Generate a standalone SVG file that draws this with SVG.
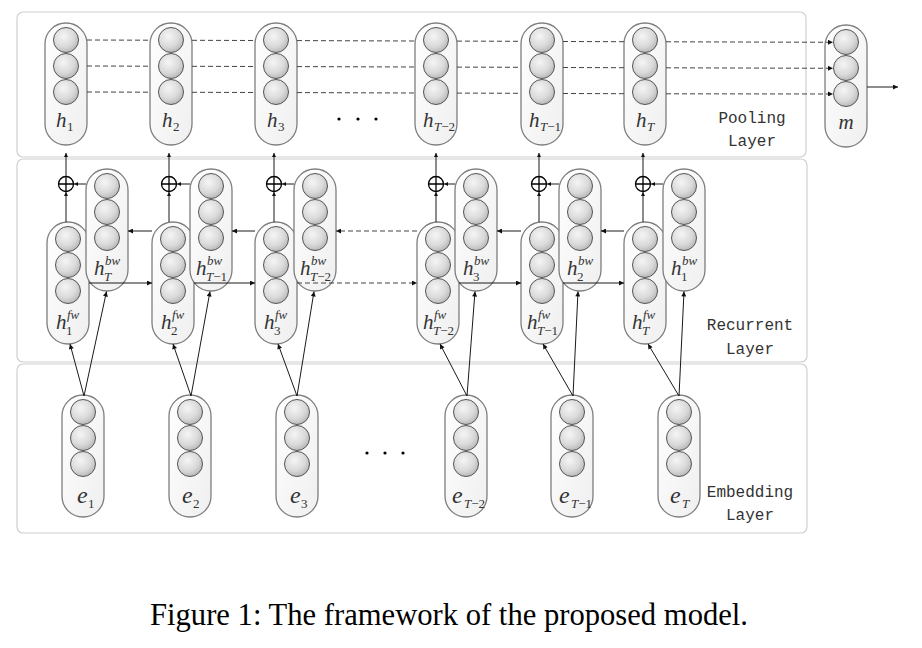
<svg xmlns="http://www.w3.org/2000/svg" xmlns:xlink="http://www.w3.org/1999/xlink" width="922" height="648" viewBox="0 0 922 648">
<style>
.layer{fill:#fff;stroke:#d0d0d0;stroke-width:1.2}
.pill{fill:url(#pg);stroke:#7e7e7e;stroke-width:1.3}
.dot{fill:url(#cg);stroke:#555;stroke-width:1}
.ln{stroke:#1a1a1a;stroke-width:1;fill:none}
.dash{stroke:#444;stroke-dasharray:5 3}
.math{font-family:"Liberation Serif",serif;font-style:italic;font-size:21px;fill:#333}
.em{font-size:24px}
.s{font-size:13px}
.up{font-style:normal}
.lay{font-family:"Liberation Mono",monospace;font-size:16px;fill:#333;text-anchor:middle}
.cap{font-family:"Liberation Serif",serif;font-size:31px;fill:#000;text-anchor:middle}
.op{fill:#fff;stroke:#000;stroke-width:1.3}
.bul{fill:#000}
</style>
<defs>
<radialGradient id="cg" cx="0.4" cy="0.35" r="0.7">
<stop offset="0" stop-color="#f5f5f5"/>
<stop offset="0.6" stop-color="#dadada"/>
<stop offset="1" stop-color="#b4b4b4"/>
</radialGradient>
<linearGradient id="pg" x1="0" y1="0" x2="1" y2="1">
<stop offset="0" stop-color="#ffffff"/>
<stop offset="1" stop-color="#efefef"/>
</linearGradient>
<g id="cell">
<rect x="0" y="0" width="42" height="122" rx="21" class="pill"/>
<circle cx="21" cy="17" r="12.5" class="dot"/>
<circle cx="21" cy="43" r="12.5" class="dot"/>
<circle cx="21" cy="69" r="12.5" class="dot"/>
</g>
<g id="plus">
<circle cx="0" cy="0" r="7.5" class="op"/>
<path d="M-7.5,0H7.5M0,-7.5V7.5" stroke="#000" stroke-width="1.3"/>
</g>
<marker id="ah" viewBox="0 0 10 10" refX="10" refY="5" markerWidth="7" markerHeight="5" markerUnits="userSpaceOnUse" orient="auto">
<path d="M0,0L10,5L0,10z" fill="#111"/>
</marker>
<marker id="ahs" viewBox="0 0 10 10" refX="10" refY="5" markerWidth="5" markerHeight="4" markerUnits="userSpaceOnUse" orient="auto">
<path d="M0,0L10,5L0,10z" fill="#111"/>
</marker>
</defs>

<g id="layers">
<rect class="layer" x="17" y="12" width="789" height="145" rx="6"/>
<rect class="layer" x="17" y="159" width="790" height="203" rx="6"/>
<rect class="layer" x="17" y="364" width="790" height="169" rx="6"/>
<text class="lay" x="752" y="123">Pooling</text>
<text class="lay" x="752" y="146">Layer</text>
<text class="lay" x="750" y="330">Recurrent</text>
<text class="lay" x="750" y="354">Layer</text>
<text class="lay" x="750" y="497">Embedding</text>
<text class="lay" x="750" y="520">Layer</text>
</g>

<!-- pooling nodes -->
<g id="h1"><use xlink:href="#cell" x="45" y="23"/><text class="math" x="56" y="127">h<tspan class="s up" x="67" y="131">1</tspan></text></g>
<g id="h2"><use xlink:href="#cell" x="150" y="23"/><text class="math" x="162" y="127">h<tspan class="s up" x="173" y="131">2</tspan></text></g>
<g id="h3"><use xlink:href="#cell" x="255" y="23"/><text class="math" x="267" y="127">h<tspan class="s up" x="278" y="131">3</tspan></text></g>
<g id="hT-2"><use xlink:href="#cell" x="415" y="23"/><text class="math" x="423" y="127">h<tspan class="s" x="434" y="131">T</tspan><tspan class="s up">−2</tspan></text></g>
<g id="hT-1"><use xlink:href="#cell" x="521" y="23"/><text class="math" x="529" y="127">h<tspan class="s" x="540" y="131">T</tspan><tspan class="s up">−1</tspan></text></g>
<g id="hT"><use xlink:href="#cell" x="624" y="23"/><text class="math" x="636" y="127">h<tspan class="s" x="647" y="131">T</tspan></text></g>
<g id="m"><use xlink:href="#cell" x="825" y="25"/><text class="math" x="846" y="129" text-anchor="middle">m</text></g>
<g id="dots-pool"><circle class="bul" cx="339" cy="119" r="1.6"/><circle class="bul" cx="358" cy="119" r="1.6"/><circle class="bul" cx="376" cy="119" r="1.6"/></g>

<!-- recurrent nodes -->
<g id="fw1"><use xlink:href="#cell" x="47" y="222"/><text class="math" x="56" y="329">h<tspan class="s" x="67" y="319">fw</tspan><tspan class="s up" x="66" y="335">1</tspan></text></g>
<g id="bwT"><use xlink:href="#cell" x="86" y="169"/><text class="math" x="94" y="275">h<tspan class="s" x="105" y="265">bw</tspan><tspan class="s" x="104" y="281">T</tspan></text></g>
<g id="fw2"><use xlink:href="#cell" x="152" y="222"/><text class="math" x="161" y="329">h<tspan class="s" x="172" y="319">fw</tspan><tspan class="s up" x="171" y="335">2</tspan></text></g>
<g id="bwT-1"><use xlink:href="#cell" x="190" y="169"/><text class="math" x="196" y="275">h<tspan class="s" x="207" y="265">bw</tspan><tspan class="s" x="206" y="281">T</tspan><tspan class="s up">−1</tspan></text></g>
<g id="fw3"><use xlink:href="#cell" x="255" y="222"/><text class="math" x="264" y="329">h<tspan class="s" x="275" y="319">fw</tspan><tspan class="s up" x="274" y="335">3</tspan></text></g>
<g id="bwT-2"><use xlink:href="#cell" x="294" y="169"/><text class="math" x="300" y="275">h<tspan class="s" x="311" y="265">bw</tspan><tspan class="s" x="310" y="281">T</tspan><tspan class="s up">−2</tspan></text></g>
<g id="fwT-2"><use xlink:href="#cell" x="417" y="222"/><text class="math" x="423" y="329">h<tspan class="s" x="434" y="319">fw</tspan><tspan class="s" x="433" y="335">T</tspan><tspan class="s up">−2</tspan></text></g>
<g id="bw3"><use xlink:href="#cell" x="455" y="169"/><text class="math" x="463" y="275">h<tspan class="s" x="474" y="265">bw</tspan><tspan class="s up" x="473" y="281">3</tspan></text></g>
<g id="fwT-1"><use xlink:href="#cell" x="521" y="222"/><text class="math" x="527" y="329">h<tspan class="s" x="538" y="319">fw</tspan><tspan class="s" x="537" y="335">T</tspan><tspan class="s up">−1</tspan></text></g>
<g id="bw2"><use xlink:href="#cell" x="559" y="169"/><text class="math" x="567" y="275">h<tspan class="s" x="578" y="265">bw</tspan><tspan class="s up" x="577" y="281">2</tspan></text></g>
<g id="fwT"><use xlink:href="#cell" x="624" y="222"/><text class="math" x="632" y="329">h<tspan class="s" x="643" y="319">fw</tspan><tspan class="s" x="642" y="335">T</tspan></text></g>
<g id="bw1"><use xlink:href="#cell" x="663" y="169"/><text class="math" x="671" y="275">h<tspan class="s" x="682" y="265">bw</tspan><tspan class="s up" x="681" y="281">1</tspan></text></g>

<g id="sum1"><use xlink:href="#plus" x="66" y="184"/></g>
<g id="sum2"><use xlink:href="#plus" x="169" y="184"/></g>
<g id="sum3"><use xlink:href="#plus" x="274" y="184"/></g>
<g id="sum4"><use xlink:href="#plus" x="436" y="184"/></g>
<g id="sum5"><use xlink:href="#plus" x="539" y="184"/></g>
<g id="sum6"><use xlink:href="#plus" x="643" y="184"/></g>

<!-- embedding nodes -->
<g id="e1"><use xlink:href="#cell" x="62" y="395"/><text class="math em" x="77" y="503">e<tspan class="s up" x="88" y="508">1</tspan></text></g>
<g id="e2"><use xlink:href="#cell" x="169" y="395"/><text class="math em" x="182" y="503">e<tspan class="s up" x="193" y="508">2</tspan></text></g>
<g id="e3"><use xlink:href="#cell" x="276" y="395"/><text class="math em" x="290" y="503">e<tspan class="s up" x="301" y="508">3</tspan></text></g>
<g id="eT-2"><use xlink:href="#cell" x="445" y="395"/><text class="math em" x="452" y="503">e<tspan class="s" x="464" y="508">T</tspan><tspan class="s up">−2</tspan></text></g>
<g id="eT-1"><use xlink:href="#cell" x="551" y="395"/><text class="math em" x="559" y="503">e<tspan class="s" x="571" y="508">T</tspan><tspan class="s up">−1</tspan></text></g>
<g id="eT"><use xlink:href="#cell" x="658" y="395"/><text class="math em" x="670" y="503">e<tspan class="s" x="682" y="508">T</tspan></text></g>
<g id="dots-emb"><circle class="bul" cx="367" cy="453" r="1.6"/><circle class="bul" cx="385" cy="453" r="1.6"/><circle class="bul" cx="403" cy="453" r="1.6"/></g>

<g id="connectors">
<path class="ln dash" marker-end="url(#ah)" d="M87,40L150,40.2M192,40.3L255,40.5M297,40.6L415,41M457,41.1L521,41.3M563,41.5L624,41.7M666,41.8L833,42.3"/>
<path class="ln dash" marker-end="url(#ah)" d="M87,66L150,66.2M192,66.3L255,66.5M297,66.6L415,67M457,67.1L521,67.3M563,67.5L624,67.7M666,67.8L833,68.3"/>
<path class="ln dash" marker-end="url(#ah)" d="M87,92L150,92.2M192,92.3L255,92.5M297,92.6L415,93M457,93.1L521,93.3M563,93.5L624,93.7M666,93.8L833,94"/>
<path class="ln" marker-end="url(#ah)" d="M867,87L898,87"/>
<path class="ln" marker-end="url(#ahs)" d="M66,176.5V153"/>
<path class="ln" marker-end="url(#ahs)" d="M169,176.5V153"/>
<path class="ln" marker-end="url(#ahs)" d="M274,176.5V153"/>
<path class="ln" marker-end="url(#ahs)" d="M436,176.5V153"/>
<path class="ln" marker-end="url(#ahs)" d="M539,176.5V153"/>
<path class="ln" marker-end="url(#ahs)" d="M643,176.5V153"/>
<path class="ln" marker-end="url(#ahs)" d="M66,222V192"/>
<path class="ln" marker-end="url(#ahs)" d="M169,222V192"/>
<path class="ln" marker-end="url(#ahs)" d="M274,222V192"/>
<path class="ln" marker-end="url(#ahs)" d="M436,222V192"/>
<path class="ln" marker-end="url(#ahs)" d="M539,222V192"/>
<path class="ln" marker-end="url(#ahs)" d="M643,222V192"/>
<path class="ln" marker-end="url(#ahs)" d="M86,184H74"/>
<path class="ln" marker-end="url(#ahs)" d="M190,184H177"/>
<path class="ln" marker-end="url(#ahs)" d="M294,184H282"/>
<path class="ln" marker-end="url(#ahs)" d="M455,184H444"/>
<path class="ln" marker-end="url(#ahs)" d="M559,184H547"/>
<path class="ln" marker-end="url(#ahs)" d="M663,184H651"/>
<path class="ln" marker-end="url(#ah)" d="M152,231H128"/>
<path class="ln" marker-end="url(#ah)" d="M255,231H232"/>
<path class="ln dash" marker-end="url(#ah)" d="M417,231H336"/>
<path class="ln" marker-end="url(#ah)" d="M521,231H497"/>
<path class="ln" marker-end="url(#ah)" d="M624,231H601"/>
<path class="ln" marker-end="url(#ah)" d="M89,283H152"/>
<path class="ln" marker-end="url(#ah)" d="M194,283H255"/>
<path class="ln dash" marker-end="url(#ah)" d="M297,283H417"/>
<path class="ln" marker-end="url(#ah)" d="M459,283H521"/>
<path class="ln" marker-end="url(#ah)" d="M563,283H624"/>
<path class="ln" marker-end="url(#ah)" d="M84,396L70,344"/>
<path class="ln" marker-end="url(#ah)" d="M84,396L106.5,291.5"/>
<path class="ln" marker-end="url(#ah)" d="M191,396L173,344"/>
<path class="ln" marker-end="url(#ah)" d="M191,396L210,291.5"/>
<path class="ln" marker-end="url(#ah)" d="M297,396L278,344"/>
<path class="ln" marker-end="url(#ah)" d="M297,396L314,291.5"/>
<path class="ln" marker-end="url(#ah)" d="M467,396L440,344"/>
<path class="ln" marker-end="url(#ah)" d="M467,396L475,291.5"/>
<path class="ln" marker-end="url(#ah)" d="M573,396L543,344"/>
<path class="ln" marker-end="url(#ah)" d="M573,396L578,291.5"/>
<path class="ln" marker-end="url(#ah)" d="M679,396L648,344"/>
<path class="ln" marker-end="url(#ah)" d="M679,396L684,291.5"/>
</g>

<text class="cap" x="449" y="625" textLength="598" lengthAdjust="spacingAndGlyphs">Figure 1: The framework of the proposed model.</text>
</svg>
